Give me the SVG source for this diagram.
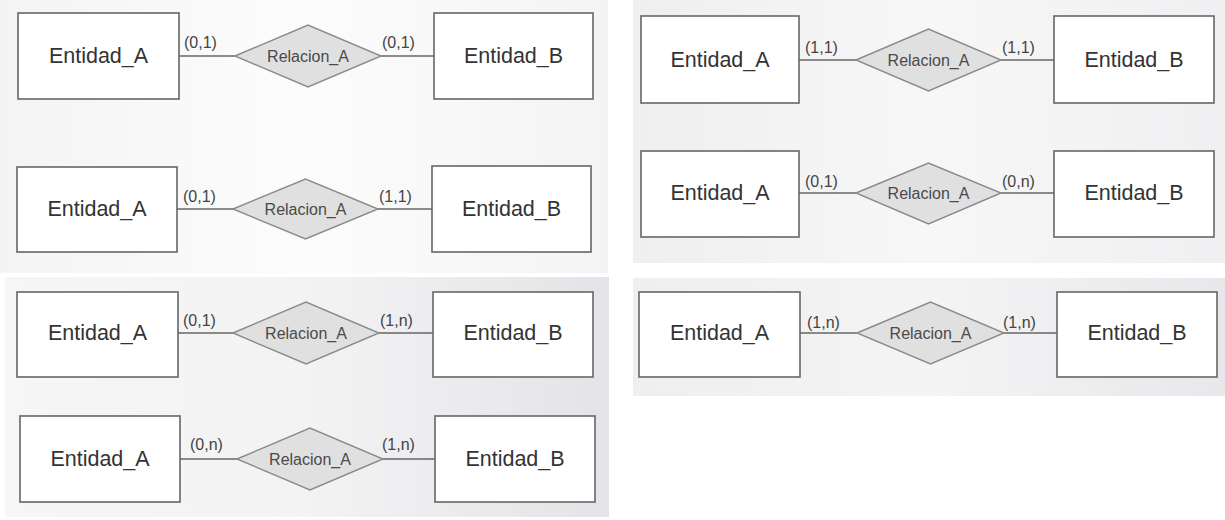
<svg xmlns="http://www.w3.org/2000/svg" width="1225" height="520" viewBox="0 0 1225 520">
<defs>
<linearGradient id="g1" x1="0" y1="0" x2="1" y2="0"><stop offset="0" stop-color="#f4f4f4"/><stop offset="0.5" stop-color="#fcfcfc"/><stop offset="1" stop-color="#f4f4f5"/></linearGradient>
<linearGradient id="g2" x1="0" y1="0" x2="1" y2="0"><stop offset="0" stop-color="#efefef"/><stop offset="0.5" stop-color="#f7f7f7"/><stop offset="1" stop-color="#f0f0f2"/></linearGradient>
<linearGradient id="g3" x1="0" y1="0" x2="1" y2="0"><stop offset="0" stop-color="#f6f6f6"/><stop offset="0.5" stop-color="#f3f3f4"/><stop offset="1" stop-color="#e4e3e7"/></linearGradient>
<linearGradient id="g4" x1="0" y1="0" x2="1" y2="0"><stop offset="0" stop-color="#efefef"/><stop offset="0.5" stop-color="#f4f4f5"/><stop offset="1" stop-color="#e8e7eb"/></linearGradient>
</defs>
<style>
.ent{fill:#ffffff;stroke:#666666;stroke-width:1.6}
.rel{fill:#e0e0e0;stroke:#8a8a8a;stroke-width:1.4}
.ln{stroke:#666666;stroke-width:1.6;fill:none}
.et{font-family:"Liberation Sans",Arial,sans-serif;font-size:21.5px;fill:#333333;text-anchor:middle;dominant-baseline:central}
.rt{font-family:"Liberation Sans",Arial,sans-serif;font-size:16px;fill:#4a4a4a;text-anchor:middle;dominant-baseline:central}
.ct{font-family:"Liberation Sans",Arial,sans-serif;font-size:16px;fill:#444444}
</style>
<rect width="1225" height="520" fill="#ffffff"/>
<g id="panels">
<rect x="0" y="0" width="608" height="273" fill="url(#g1)"/>
<rect x="633" y="0" width="592" height="263" fill="url(#g2)"/>
<rect x="5" y="277" width="604" height="240" fill="url(#g3)"/>
<rect x="633" y="278" width="592" height="118" fill="url(#g4)"/>
</g>
<g id="connectors">
<line class="ln" x1="179" y1="56" x2="235" y2="56"/><line class="ln" x1="381" y1="56" x2="434" y2="56"/>
<line class="ln" x1="177" y1="209" x2="233" y2="209"/><line class="ln" x1="378" y1="209" x2="432" y2="209"/>
<line class="ln" x1="799" y1="60" x2="856" y2="60"/><line class="ln" x1="1001" y1="60" x2="1054" y2="60"/>
<line class="ln" x1="799" y1="193" x2="856" y2="193"/><line class="ln" x1="1001" y1="193" x2="1054" y2="193"/>
<line class="ln" x1="178" y1="333" x2="233" y2="333"/><line class="ln" x1="379" y1="333" x2="433" y2="333"/>
<line class="ln" x1="180" y1="459" x2="237" y2="459"/><line class="ln" x1="383" y1="459" x2="435" y2="459"/>
<line class="ln" x1="800" y1="333" x2="857" y2="333"/><line class="ln" x1="1004" y1="333" x2="1057" y2="333"/>
</g>
<g id="labels">
<text class="ct" x="184" y="48">(0,1)</text><text class="ct" x="382" y="48">(0,1)</text>
<text class="ct" x="183" y="202">(0,1)</text><text class="ct" x="379" y="202">(1,1)</text>
<text class="ct" x="805" y="53">(1,1)</text><text class="ct" x="1002" y="53">(1,1)</text>
<text class="ct" x="805" y="187">(0,1)</text><text class="ct" x="1002" y="187">(0,n)</text>
<text class="ct" x="183" y="326">(0,1)</text><text class="ct" x="380" y="326">(1,n)</text>
<text class="ct" x="190" y="450">(0,n)</text><text class="ct" x="382" y="450">(1,n)</text>
<text class="ct" x="807" y="328">(1,n)</text><text class="ct" x="1003" y="328">(1,n)</text>
</g>
<g id="d1a"><rect class="ent" x="18" y="13" width="161" height="86"/><text class="et" x="98.5" y="56">Entidad_A</text></g>
<g id="d1r"><polygon class="rel" points="235,56 308,25 381,56 308,87"/><text class="rt" x="308" y="56">Relacion_A</text></g>
<g id="d1b"><rect class="ent" x="434" y="13" width="159" height="86"/><text class="et" x="513.5" y="56">Entidad_B</text></g>
<g id="d2a"><rect class="ent" x="17" y="167" width="160" height="85"/><text class="et" x="97" y="209">Entidad_A</text></g>
<g id="d2r"><polygon class="rel" points="233,209 305.5,179 378,209 305.5,239"/><text class="rt" x="305.5" y="209">Relacion_A</text></g>
<g id="d2b"><rect class="ent" x="432" y="166" width="159" height="86"/><text class="et" x="511.5" y="209">Entidad_B</text></g>
<g id="d3a"><rect class="ent" x="641" y="16" width="158" height="87"/><text class="et" x="720" y="60">Entidad_A</text></g>
<g id="d3r"><polygon class="rel" points="856,60 928.5,29 1001,60 928.5,91"/><text class="rt" x="928.5" y="60">Relacion_A</text></g>
<g id="d3b"><rect class="ent" x="1054" y="16" width="160" height="87"/><text class="et" x="1134" y="60">Entidad_B</text></g>
<g id="d4a"><rect class="ent" x="641" y="151" width="158" height="86"/><text class="et" x="720" y="193">Entidad_A</text></g>
<g id="d4r"><polygon class="rel" points="856,193 928.5,163 1001,193 928.5,224"/><text class="rt" x="928.5" y="193">Relacion_A</text></g>
<g id="d4b"><rect class="ent" x="1054" y="151" width="160" height="86"/><text class="et" x="1134" y="193">Entidad_B</text></g>
<g id="d5a"><rect class="ent" x="17" y="292" width="161" height="85"/><text class="et" x="97.5" y="333">Entidad_A</text></g>
<g id="d5r"><polygon class="rel" points="233,333 306,302 379,333 306,364"/><text class="rt" x="306" y="333">Relacion_A</text></g>
<g id="d5b"><rect class="ent" x="433" y="292" width="160" height="85"/><text class="et" x="513" y="333">Entidad_B</text></g>
<g id="d6a"><rect class="ent" x="20" y="416" width="160" height="86"/><text class="et" x="100" y="459">Entidad_A</text></g>
<g id="d6r"><polygon class="rel" points="237,459 310,428 383,459 310,490"/><text class="rt" x="310" y="459">Relacion_A</text></g>
<g id="d6b"><rect class="ent" x="435" y="416" width="160" height="86"/><text class="et" x="515" y="459">Entidad_B</text></g>
<g id="d7a"><rect class="ent" x="639" y="292" width="161" height="85"/><text class="et" x="719.5" y="333">Entidad_A</text></g>
<g id="d7r"><polygon class="rel" points="857,333 930.5,302 1004,333 930.5,364"/><text class="rt" x="930.5" y="333">Relacion_A</text></g>
<g id="d7b"><rect class="ent" x="1057" y="292" width="160" height="85"/><text class="et" x="1137" y="333">Entidad_B</text></g>
</svg>
